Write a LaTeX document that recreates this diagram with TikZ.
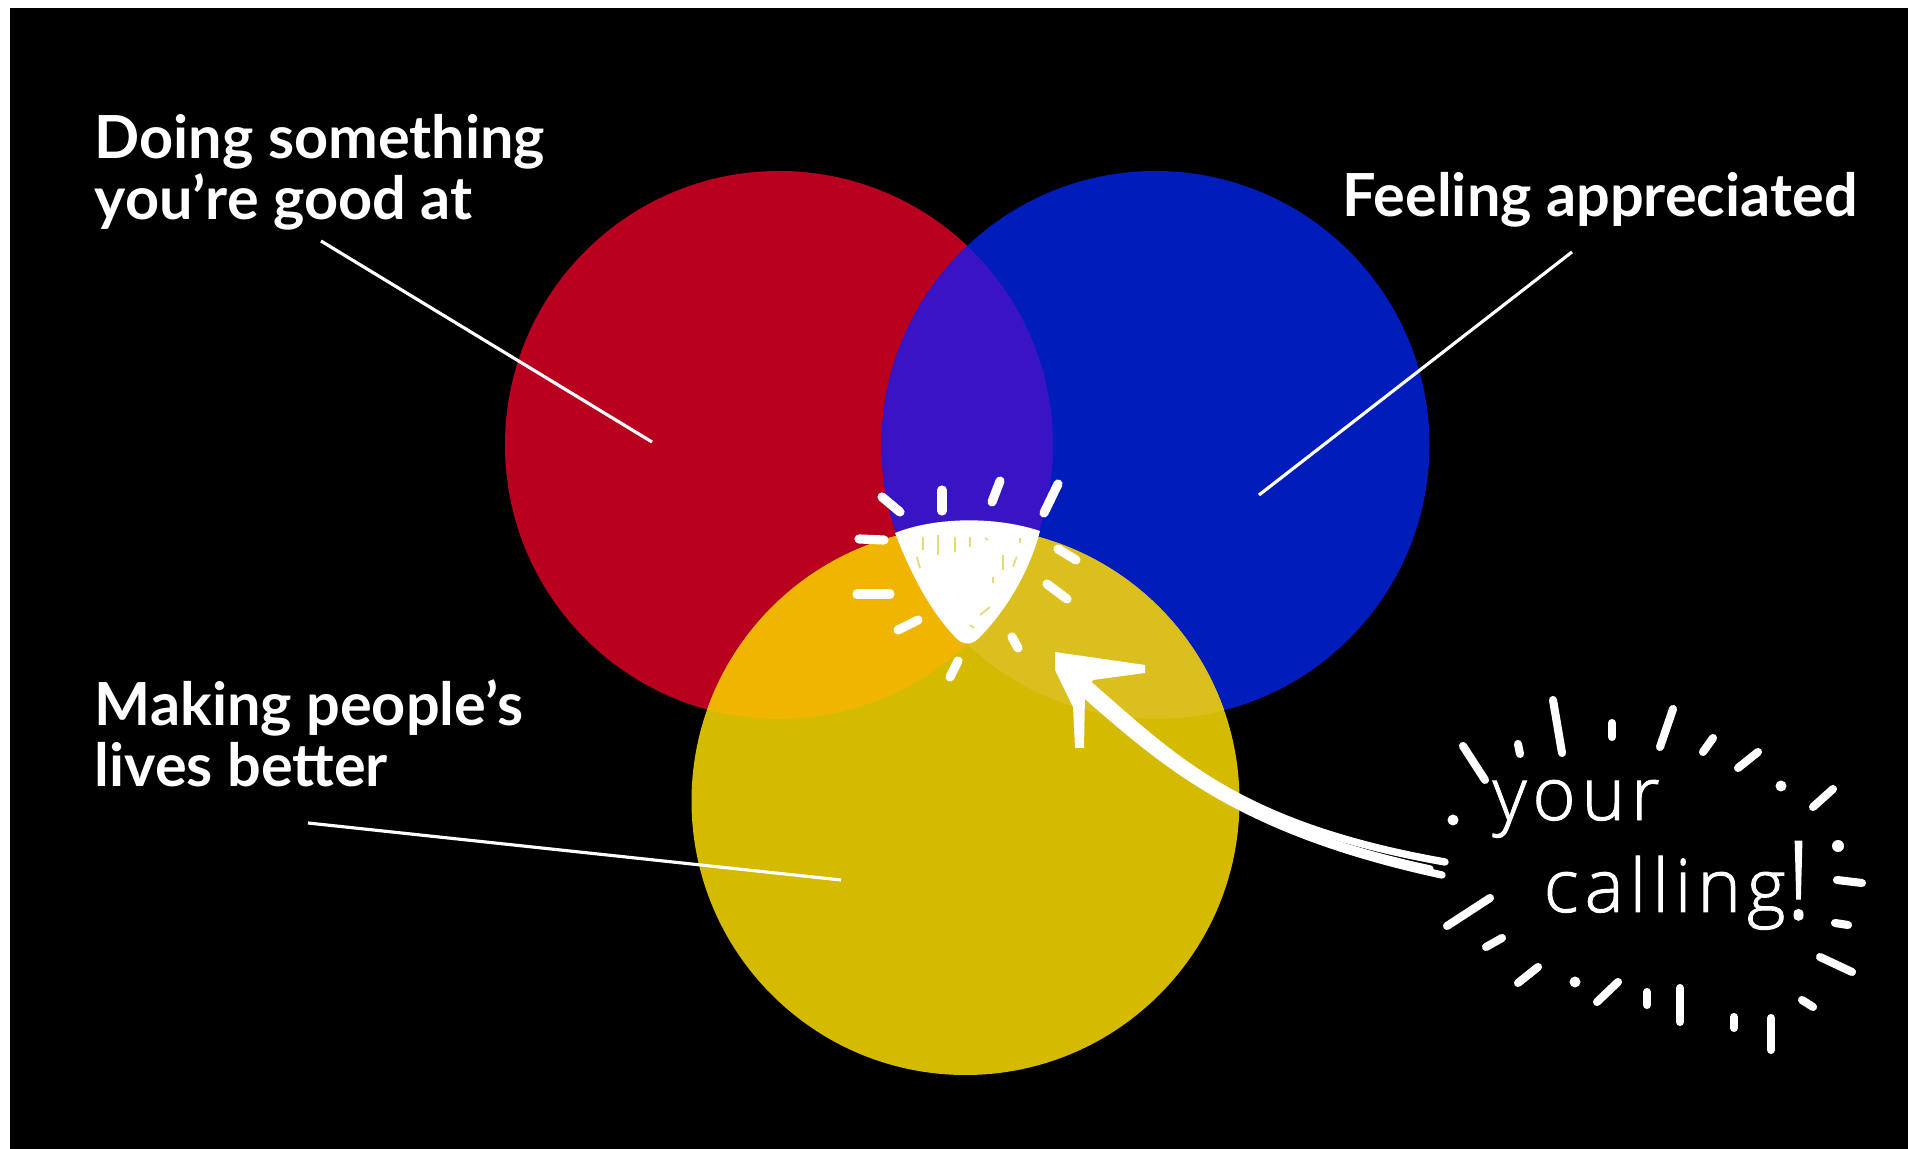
\documentclass[tikz,border=0pt]{standalone}
\usepackage{fontspec}
\setmainfont{Lato}
\newfontfamily\handfont[LetterSpace=8,FakeBold=1.3]{Open Sans Light}
\begin{document}
\begin{tikzpicture}[pointer/.style={line width=0.9pt, white}, tick/.style={line width=2.6pt, white, line cap=round}, sparkle/.style={line width=2.3pt, white, line cap=round}, strand/.style={line width=2.1pt, white, line cap=round}, hatch/.style={line width=0.5pt, ndYellow!55!white}, caption/.style={font=\bfseries\fontsize{16.9}{17.4}\selectfont, text=white, align=left, inner sep=0pt}, hand/.style={font=\handfont\fontsize{21}{19.6}\selectfont, text=white, align=left, inner sep=0pt}]
\definecolor{ndRed}{rgb}{0.73,0.00,0.12}
\definecolor{ndBlue}{rgb}{0.00,0.11,0.73}
\definecolor{ndYellow}{rgb}{0.83,0.73,0.00}
\definecolor{ndViolet}{rgb}{0.22,0.08,0.77}
\definecolor{ndAmber}{rgb}{0.94,0.71,0.00}
\definecolor{ndOlive}{rgb}{0.86,0.75,0.12}
\useasboundingbox (0,0) rectangle (19.08,11.49);
\fill[white] (0,0) rectangle (19.08,11.49);
\fill[black] (0.10,0) rectangle (19.08,11.41);
\fill[ndRed] (7.79,7.04) circle (2.74);
\fill[ndBlue] (11.555,7.04) circle (2.74);
\fill[ndYellow] (9.655,3.48) circle (2.74);
\begin{scope}
\clip (7.79,7.04) circle (2.74);
\fill[ndViolet] (11.555,7.04) circle (2.74);
\fill[ndAmber] (9.655,3.48) circle (2.74);
\end{scope}
\begin{scope}
\clip (11.555,7.04) circle (2.74);
\fill[ndOlive] (9.655,3.48) circle (2.74);
\end{scope}
\fill[white] (8.95,6.16) .. controls (9.35,6.32) and (9.95,6.33) .. (10.40,6.18) .. controls (10.28,5.72) and (10.02,5.34) .. (9.78,5.10) .. controls (9.70,5.03) and (9.62,5.05) .. (9.57,5.10) .. controls (9.28,5.40) and (9.10,5.78) .. (8.95,6.16) -- cycle;
\draw[hatch] (9.233,6.123) -- (9.233,5.99);
\draw[hatch] (9.383,6.14) -- (9.383,5.94);
\draw[hatch] (9.55,6.123) -- (9.55,5.973);
\draw[hatch] (9.70,6.123) -- (9.70,6.023);
\draw[hatch] (9.85,6.11) -- (9.88,6.09);
\draw[hatch] (10.20,6.11) -- (10.20,6.06);
\draw[hatch] (9.167,5.923) -- (9.20,5.807);
\draw[hatch] (10.033,5.94) -- (10.033,5.79);
\draw[hatch] (10.167,5.923) -- (10.13,5.823);
\draw[hatch] (9.933,5.723) -- (9.933,5.657);
\draw[hatch] (9.80,5.34) -- (9.90,5.42);
\draw[hatch] (9.70,5.24) -- (9.74,5.21);
\draw[tick] (8.82,6.52) -- (9.00,6.37);
\draw[tick] (9.42,6.59) -- (9.42,6.38);
\draw[tick] (10.00,6.68) -- (9.92,6.47);
\draw[tick] (10.58,6.65) -- (10.44,6.36);
\draw[tick] (8.59,6.10) -- (8.84,6.09);
\draw[tick] (10.58,6.00) -- (10.76,5.89);
\draw[tick] (8.57,5.55) -- (8.90,5.55);
\draw[tick] (10.47,5.65) -- (10.67,5.50);
\draw[tick] (8.98,5.19) -- (9.18,5.29);
\draw[tick] (10.12,5.12) -- (10.18,5.01);
\draw[tick] (9.58,4.88) -- (9.50,4.72);
\fill[white] (10.55,4.97) -- (11.45,4.84) -- (11.45,4.76) -- (10.93,4.69) -- (10.85,4.56) -- (10.84,4.01) -- (10.75,4.01) -- (10.73,4.42) -- (10.55,4.79) -- cycle;
\draw[strand] (10.80,4.72) .. controls (11.70,3.95) and (12.30,3.25) .. (14.45,2.87);
\draw[strand] (10.72,4.66) .. controls (11.60,3.90) and (12.30,3.20) .. (14.42,2.74);
\draw[strand] (10.76,4.69) .. controls (11.65,3.92) and (12.30,3.23) .. (14.30,2.80);
\node[caption, anchor=base west] (doing) at (0.94,9.29) {Doing something\\you’re good at};
\node[caption, anchor=base west] (feeling) at (13.42,9.32) {Feeling appreciated};
\node[caption, anchor=base west] (making) at (0.94,3.62) {Making people’s\\lives better};
\coordinate (doingStart) at (3.21,9.08);
\coordinate (doingEnd) at (6.52,7.07);
\coordinate (feelingStart) at (15.72,8.97);
\coordinate (feelingEnd) at (12.59,6.54);
\coordinate (makingStart) at (3.08,3.26);
\coordinate (makingEnd) at (8.41,2.69);
\draw[pointer] (doingStart) -- (doingEnd);
\draw[pointer] (feelingStart) -- (feelingEnd);
\draw[pointer] (makingStart) -- (makingEnd);
\node[hand, anchor=base west] (calling) at (14.92,2.37) {your\\\hspace*{0.51cm}calling\raisebox{-2pt}{\fontsize{31}{31}\selectfont !}};
\draw[sparkle] (14.63,4.03) -- (14.85,3.69);
\draw[sparkle] (15.18,4.05) -- (15.20,3.95);
\draw[sparkle] (15.53,4.49) -- (15.62,3.96);
\draw[sparkle] (16.12,4.26) -- (16.12,4.12);
\draw[sparkle] (16.73,4.40) -- (16.60,4.02);
\draw[sparkle] (17.13,4.11) -- (17.03,3.97);
\draw[sparkle] (17.58,3.97) -- (17.38,3.81);
\fill[white] (17.81,3.63) circle (0.055);
\draw[sparkle] (18.33,3.60) -- (18.13,3.42);
\fill[white] (18.38,3.03) circle (0.06);
\draw[sparkle] (18.37,2.69) -- (18.62,2.66);
\draw[sparkle] (18.35,2.26) -- (18.48,2.24);
\draw[sparkle] (18.20,1.92) -- (18.52,1.77);
\draw[sparkle] (18.02,1.49) -- (18.13,1.42);
\draw[sparkle] (17.71,1.31) -- (17.71,0.99);
\draw[sparkle] (17.34,1.32) -- (17.34,1.21);
\draw[sparkle] (16.80,1.61) -- (16.80,1.27);
\draw[sparkle] (16.47,1.57) -- (16.47,1.44);
\draw[sparkle] (16.18,1.67) -- (15.97,1.47);
\fill[white] (15.75,1.67) circle (0.055);
\draw[sparkle] (15.38,1.82) -- (15.18,1.66);
\draw[sparkle] (15.02,2.11) -- (14.86,2.02);
\draw[sparkle] (14.90,2.51) -- (14.47,2.23);
\fill[white] (14.53,3.29) circle (0.055);
\end{tikzpicture}
\end{document}
